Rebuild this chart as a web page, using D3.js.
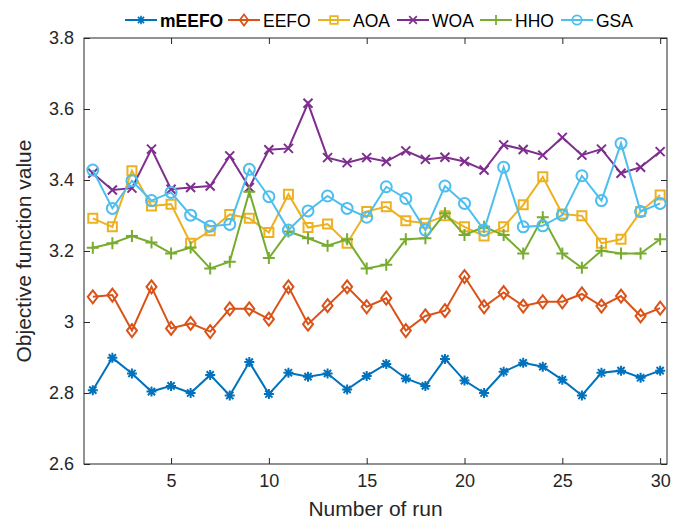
<!DOCTYPE html>
<html>
<head>
<meta charset="utf-8">
<script src="https://cdn.jsdelivr.net/npm/d3@7"></script>
<style>
  body { margin: 0; background: #fff; }
  text { font-family: "Liberation Sans", Arial, sans-serif; }
</style>
</head>
<body>
<script>
// data
const runs = d3.range(1, 31);
const mEEFO = [2.808, 2.899, 2.855, 2.804, 2.820, 2.800, 2.851, 2.793, 2.887, 2.797,
               2.857, 2.846, 2.855, 2.810, 2.848, 2.882, 2.841, 2.820, 2.896, 2.835,
               2.800, 2.860, 2.885, 2.874, 2.837, 2.793, 2.857, 2.863, 2.843, 2.863];
const EEFO = [3.071, 3.076, 2.976, 3.099, 2.982, 2.996, 2.973, 3.037, 3.037, 3.008,
              3.099, 2.994, 3.046, 3.099, 3.043, 3.067, 2.976, 3.017, 3.032, 3.128,
              3.043, 3.083, 3.045, 3.057, 3.057, 3.079, 3.045, 3.073, 3.017, 3.039];
const AOA = [3.292, 3.268, 3.426, 3.327, 3.332, 3.222, 3.257, 3.303, 3.292, 3.252,
             3.360, 3.266, 3.276, 3.222, 3.311, 3.325, 3.285, 3.278, 3.299, 3.268,
             3.242, 3.268, 3.330, 3.409, 3.304, 3.299, 3.222, 3.233, 3.311, 3.358];
const WOA = [3.419, 3.372, 3.377, 3.487, 3.374, 3.379, 3.383, 3.468, 3.379, 3.485,
             3.489, 3.616, 3.463, 3.449, 3.463, 3.452, 3.482, 3.458, 3.464, 3.452,
             3.428, 3.499, 3.486, 3.470, 3.520, 3.470, 3.487, 3.419, 3.436, 3.480];
const HHO = [3.209, 3.222, 3.242, 3.224, 3.193, 3.210, 3.151, 3.170, 3.367, 3.180,
             3.255, 3.236, 3.215, 3.233, 3.151, 3.161, 3.233, 3.236, 3.306, 3.245,
             3.268, 3.245, 3.193, 3.295, 3.193, 3.153, 3.201, 3.193, 3.193, 3.233];
const GSA = [3.428, 3.320, 3.398, 3.342, 3.365, 3.301, 3.270, 3.275, 3.430, 3.353,
             3.259, 3.313, 3.355, 3.320, 3.295, 3.381, 3.348, 3.259, 3.383, 3.334,
             3.259, 3.436, 3.268, 3.271, 3.301, 3.412, 3.342, 3.503, 3.311, 3.334];

const names = ["mEEFO", "EEFO", "AOA", "WOA", "HHO", "GSA"];
const colors = ["#0072BD", "#D95319", "#EDB120", "#7E2F8E", "#77AC30", "#4DBEEE"];
const markers = ["star", "diamond", "square", "x", "plus", "circle"];
const xTicks = [5, 10, 15, 20, 25, 30];
const yTicks = [2.6, 2.8, 3.0, 3.2, 3.4, 3.6, 3.8];

const series = [mEEFO, EEFO, AOA, WOA, HHO, GSA].map((vals, i) => ({
  name: names[i], color: colors[i], marker: markers[i],
  values: vals.map((v, j) => ({ x: runs[j], y: v }))
}));

const W = 675, H = 524;
const margin = { top: 38, right: 8, bottom: 60, left: 84 };
const width = W - margin.left - margin.right;
const height = H - margin.top - margin.bottom;

const svg = d3.select("body").append("svg")
  .attr("width", W).attr("height", H);

const g = svg.append("g")
  .attr("transform", "translate(" + margin.left + "," + margin.top + ")");

const xScale = d3.scaleLinear().domain([0.55, 30.35]).range([0, width]);
const yScale = d3.scaleLinear().domain([2.6, 3.8]).range([height, 0]);

const axisColor = "#262626";

// marker path generator
function markerPath(type) {
  switch (type) {
    case "star": return "M-5,0H5M0,-5V5M-3.6,-3.6L3.6,3.6M-3.6,3.6L3.6,-3.6";
    case "diamond": return "M0,-6.5L5,0L0,6.5L-5,0Z";
    case "square": return "M-4.5,-4.5H4.5V4.5H-4.5Z";
    case "x": return "M-4.5,-4.5L4.5,4.5M-4.5,4.5L4.5,-4.5";
    case "plus": return "M-6,0H6M0,-6V6";
    case "circle": return "M5.5,0A5.5,5.5 0 1,1 -5.5,0A5.5,5.5 0 1,1 5.5,0Z";
  }
}

// axes (box with inward ticks)
const xAxis = d3.axisBottom(xScale).tickValues(xTicks).tickSizeInner(-6).tickSizeOuter(0).tickPadding(10);
const yAxis = d3.axisLeft(yScale).tickValues(yTicks).tickSizeInner(-6).tickSizeOuter(0).tickPadding(10)
  .tickFormat(d => d === 3 ? "3" : d3.format(".1f")(d));

const xg = g.append("g").attr("transform", "translate(0," + height + ")").call(xAxis);
const yg = g.append("g").call(yAxis);
const xgTop = g.append("g").call(d3.axisTop(xScale).tickValues(xTicks).tickSizeInner(-6).tickSizeOuter(0).tickFormat(""));
const ygRight = g.append("g").attr("transform", "translate(" + width + ",0)")
  .call(d3.axisRight(yScale).tickValues(yTicks).tickSizeInner(-6).tickSizeOuter(0).tickFormat(""));

[xg, yg, xgTop, ygRight].forEach(a => {
  a.select(".domain").remove();
  a.selectAll("line").attr("stroke", axisColor).attr("stroke-width", 1);
  a.selectAll("text").attr("fill", axisColor).style("font-size", "18px")
    .style("font-family", "'Liberation Sans', Arial, sans-serif");
});

g.append("rect")
  .attr("width", width).attr("height", height)
  .attr("fill", "none").attr("stroke", axisColor).attr("stroke-width", 1);

// lines + markers
const line = d3.line().x(d => xScale(d.x)).y(d => yScale(d.y));

const sg = g.selectAll(".series").data(series).enter().append("g").attr("class", "series");

sg.append("path")
  .attr("d", d => line(d.values))
  .attr("fill", "none")
  .attr("stroke", d => d.color)
  .attr("stroke-width", 2);

sg.each(function (s) {
  d3.select(this).selectAll(".mk").data(s.values).enter().append("path")
    .attr("class", "mk")
    .attr("transform", d => "translate(" + xScale(d.x) + "," + yScale(d.y) + ")")
    .attr("d", markerPath(s.marker))
    .attr("fill", "none")
    .attr("stroke", s.color)
    .attr("stroke-width", 2);
});

// axis labels
svg.append("text")
  .attr("x", margin.left + width / 2).attr("y", 516)
  .attr("text-anchor", "middle")
  .attr("fill", axisColor)
  .style("font-size", "21px")
  .text("Number of run");

svg.append("text")
  .attr("transform", "translate(31," + (margin.top + height / 2) + ") rotate(-90)")
  .attr("text-anchor", "middle")
  .attr("fill", axisColor)
  .style("font-size", "21px")
  .text("Objective function value");

// legend
const legendX = [125, 228, 318, 397, 480, 561];
const legend = svg.append("g");
series.forEach((s, i) => {
  const lg = legend.append("g").attr("transform", "translate(" + legendX[i] + ",20)");
  lg.append("line").attr("x1", 0).attr("x2", 32).attr("y1", 0).attr("y2", 0)
    .attr("stroke", s.color).attr("stroke-width", 2);
  lg.append("path").attr("transform", "translate(16,0) scale(0.85)")
    .attr("d", markerPath(s.marker))
    .attr("fill", "none").attr("stroke", s.color).attr("stroke-width", 2);
  lg.append("text").attr("x", 35).attr("y", 6.5)
    .attr("fill", "#000")
    .style("font-size", "17.5px")
    .style("font-weight", i === 0 ? "bold" : "normal")
    .text(s.name);
});
</script>
</body>
</html>
